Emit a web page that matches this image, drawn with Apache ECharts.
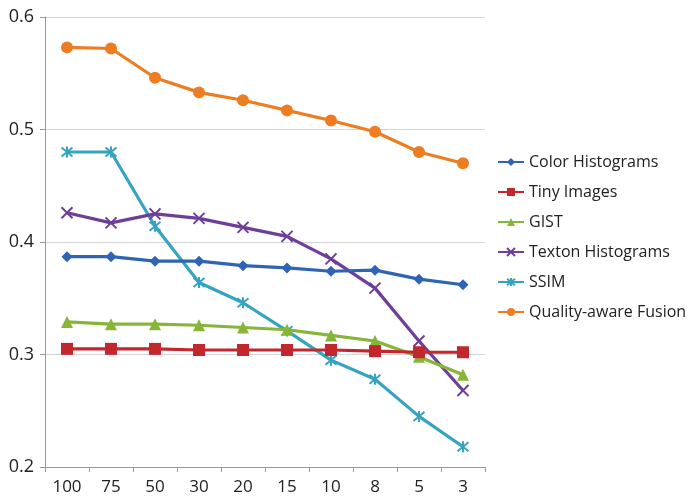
<!DOCTYPE html>
<html><head><meta charset="utf-8">
<script src="https://cdn.jsdelivr.net/npm/echarts@6/dist/echarts.min.js"></script>
<style>html,body{margin:0;padding:0;background:#fff}#c{width:691px;height:496px}</style>
</head><body><div id="c"></div>
<script>
var categories = ['100','75','50','30','20','15','10','8','5','3'];
var colorHist = [0.387,0.387,0.383,0.383,0.379,0.377,0.374,0.375,0.367,0.362];
var tinyImages = [0.305,0.305,0.305,0.304,0.304,0.304,0.304,0.303,0.302,0.302];
var gist = [0.329,0.327,0.327,0.326,0.324,0.322,0.317,0.312,0.298,0.282];
var texton = [0.426,0.417,0.425,0.421,0.413,0.405,0.385,0.359,0.312,0.268];
var ssim = [0.480,0.480,0.414,0.364,0.346,0.321,0.295,0.278,0.245,0.218];
var fusion = [0.573,0.572,0.546,0.533,0.526,0.517,0.508,0.498,0.480,0.470];
var names = ['Color Histograms','Tiny Images','GIST','Texton Histograms','SSIM','Quality-aware Fusion'];
var colors = ['#2F64B4','#C1272D','#86B537','#6E3E99','#35A3C2','#EE7D22'];
var xPath = 'path://M0,0L10,10M10,0L0,10';
var starPath = 'path://M0,0L10,10M10,0L0,10M5,-1L5,11';
var symbols = ['diamond','rect','triangle',xPath,starPath,'circle'];
var sizes = [11,12,12,11,11,12];
var datas = [colorHist,tinyImages,gist,texton,ssim,fusion];

var chart = echarts.init(document.getElementById('c'));
var series = names.map(function(n,i){
  var stroke = (i===3||i===4);
  return {
    name:n, type:'line', data:datas[i], symbol:symbols[i], symbolSize:sizes[i],
    showAllSymbol:true,
    lineStyle:{color:colors[i], width:3.2},
    itemStyle:{color:colors[i], borderColor:colors[i], borderWidth: stroke?2:0},
    z: 10-i
  };
});
chart.setOption({
  animation:false,
  textStyle:{fontFamily:'Open Sans', color:'#222'},
  grid:{left:45, right:206, top:17, bottom:29},
  xAxis:{type:'category', data:categories, boundaryGap:true,
    axisLine:{lineStyle:{color:'#9a9a9a', width:1}},
    axisTick:{show:true, length:5, lineStyle:{color:'#9a9a9a'}},
    axisLabel:{color:'#222', fontSize:17, margin:12, fontFamily:'Open Sans'}},
  yAxis:{type:'value', min:0.2, max:0.6, interval:0.1,
    axisLine:{show:true, lineStyle:{color:'#9a9a9a'}},
    axisTick:{show:true, length:5, lineStyle:{color:'#9a9a9a'}},
    splitLine:{lineStyle:{color:'#d4d4d4'}},
    axisLabel:{color:'#222', fontSize:18, margin:11, fontFamily:'Open Sans', formatter:function(v){return v.toFixed(1);}}},
  legend:{orient:'vertical', left:492, top:149, itemWidth:26, itemHeight:10, itemGap:14,
    textStyle:{fontSize:16, color:'#222', fontFamily:'Open Sans'}, data:names},
  series:series
});
</script></body></html>
